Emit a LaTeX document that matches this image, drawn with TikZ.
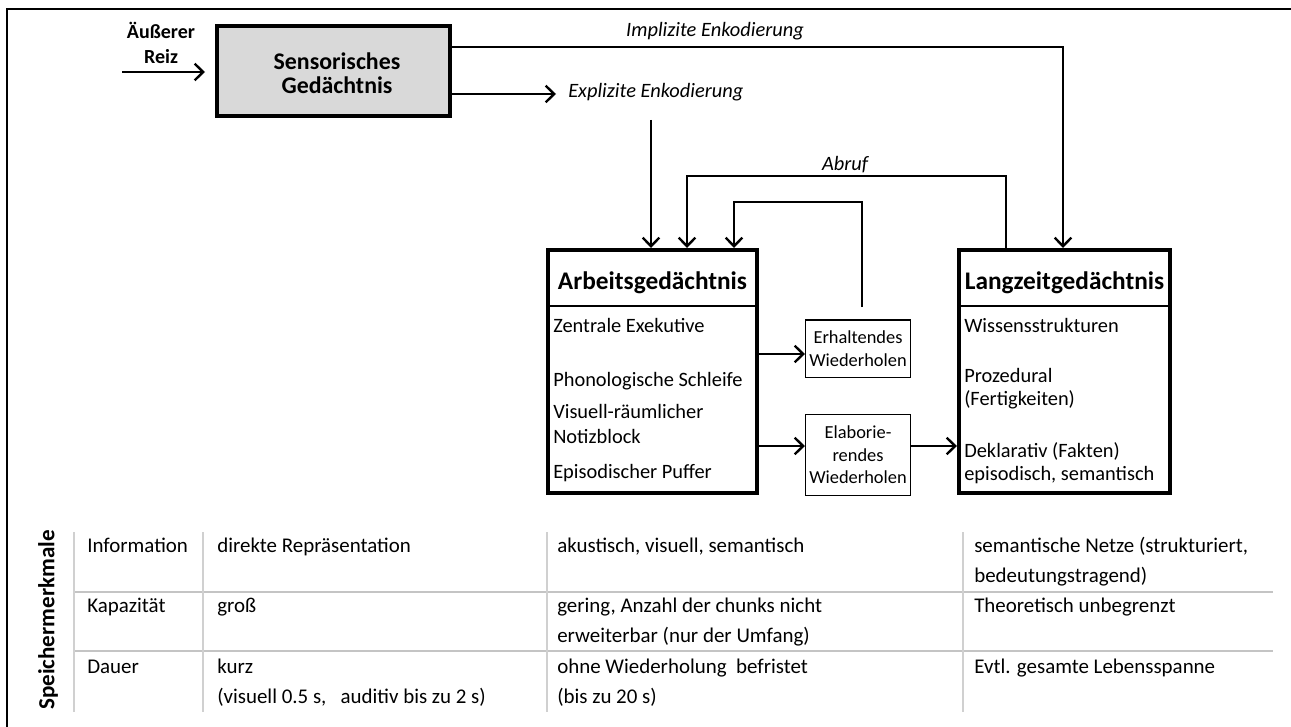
\documentclass[tikz,border=0pt]{standalone}
\usepackage{fontspec}
\setmainfont{Carlito}
\usetikzlibrary{arrows.meta}
\definecolor{boxgray}{HTML}{D9D9D9}
\definecolor{rulegray}{HTML}{C4C4C4}
\newcommand\fbody{\fontsize{15.3}{18}\selectfont}
\newcommand\ftab{\fontsize{15.7}{18}\selectfont}
\newcommand\ftitle{\fontsize{19}{22}\selectfont\bfseries}
\newcommand\fsens{\fontsize{17.9}{21}\selectfont\bfseries}
\newcommand\freiz{\fontsize{15}{18}\selectfont\bfseries}
\newcommand\fsmall{\fontsize{13.8}{17}\selectfont}
\newcommand\fside{\fontsize{17.3}{20}\selectfont\bfseries}
\tikzset{
  store/.style={draw, line width=3pt, inner sep=0pt},
  rehearse/.style={draw, line width=1.1pt, inner sep=0pt, align=center, font=\fsmall},
  arr/.style={line width=2pt, -{Straight Barb[length=6.5pt,width=12.5pt,line width=1.8pt]}},
  divider/.style={line width=1.6pt},
  entry/.style={inner sep=0pt, anchor=base west, font=\fbody},
  heading/.style={inner sep=0pt, anchor=base, font=\ftitle},
  flowlabel/.style={inner sep=0pt, font=\fbody\itshape},
  cell/.style={inner sep=0pt, anchor=base west, font=\ftab},
  hrule/.style={draw=rulegray, line width=1.9pt},
  vrule/.style={draw=rulegray!80, line width=1.4pt}
}
\begin{document}
\begin{tikzpicture}[x=0.75pt, y=-0.75pt]
\useasboundingbox (0,0) rectangle (1291,727);

% outer frame (top and left edges)
\draw[line width=1.6pt] (1291,9) -- (7,9) -- (7,727);

% stores
\node[store, fill=boxgray, minimum width=174.75pt, minimum height=67.5pt] (sg) at (333.5,71) {};
\node[heading, font=\fsens] (sgA) at (337,70) {Sensorisches};
\node[heading, font=\fsens] (sgB) at (337,94) {Gedächtnis};

\node[store, minimum width=156.75pt, minimum height=182.25pt] (ag) at (652.5,371.5) {};
\node[store, minimum width=158.25pt, minimum height=182.25pt] (lz) at (1064.5,371.5) {};
\draw[divider] (ag.west |- 0,306) -- (ag.east |- 0,306);
\draw[divider] (lz.west |- 0,306) -- (lz.east |- 0,306);
\node[heading] (agT) at (652.5,289) {Arbeitsgedächtnis};
\node[heading] (lzT) at (1064.5,289) {Langzeitgedächtnis};

% working memory components
\node[entry] (ag1) at (553,332) {Zentrale Exekutive};
\node[entry] (ag2) at (553,386) {Phonologische Schleife};
\node[entry] (ag3) at (553,418) {Visuell-räumlicher};
\node[entry] (ag4) at (553,443) {Notizblock};
\node[entry] (ag5) at (553,478) {Episodischer Puffer};

% long-term memory components
\node[entry] (lz1) at (964,332) {Wissensstrukturen};
\node[entry] (lz2) at (964,382) {Prozedural};
\node[entry] (lz3) at (964,405) {(Fertigkeiten)};
\node[entry] (lz4) at (964,457) {Deklarativ (Fakten)};
\node[entry] (lz5) at (964,480) {episodisch, semantisch};

% rehearsal boxes
\node[rehearse, minimum width=78.4pt, minimum height=43.1pt] (eh) at (858,348.5) {Erhaltendes\\Wiederholen};
\node[rehearse, minimum width=78.4pt, minimum height=60.4pt] (el) at (858,455) {Elaborie-\\rendes\\Wiederholen};

% external stimulus
\node[heading, font=\freiz] (rzA) at (161,39) {Äußerer};
\node[heading, font=\freiz] (rzB) at (161,64) {Reiz};
\coordinate (reiz) at (122,72);
\draw[arr] (reiz) -- ([xshift=-7.5pt]sg.west |- reiz);

% implicit encoding
\coordinate (impl) at (1063,47);
\draw[arr] (sg.east |- impl) -| (lz.north -| impl);
\node[flowlabel, anchor=base] (implT) at (715,37) {Implizite Enkodierung};

% explicit encoding
\coordinate (explEnd) at (556,94);
\draw[arr] (sg.east |- explEnd) -- (explEnd);
\node[flowlabel, anchor=base west] (explT) at (568,98) {Explizite Enkodierung};
\coordinate (explDown) at (651,120);
\draw[arr] (explDown) -- (ag.north -| explDown);

% retrieval
\coordinate (abrR) at (1006,176);
\coordinate (abrL) at (687,176);
\draw[arr] (lz.north -| abrR) -- (abrR) -- (abrL) -- (ag.north -| abrL);
\node[flowlabel, anchor=base] (abrT) at (845,171) {Abruf};

% maintenance loop
\coordinate (ehS) at (862,307);
\coordinate (ehR) at (862,202);
\coordinate (ehL) at (734,202);
\draw[arr] (ehS) -- (ehR) -- (ehL) -- (ag.north -| ehL);

% rehearsal arrows
\coordinate (rowE) at (0,354);
\coordinate (rowL) at (0,446);
\draw[arr] (ag.east |- rowE) -- (eh.west |- rowE);
\draw[arr] (ag.east |- rowL) -- (el.west |- rowL);
\draw[arr] (el.east |- rowL) -- (lz.west |- rowL);

% table of storage characteristics
\draw[hrule] (74,592) -- (1273,592);
\draw[hrule] (74,651) -- (1273,651);
\foreach \cx in {74,203,547,963} \draw[vrule] (\cx,532) -- (\cx,712);
\node[rotate=90, inner sep=0pt, font=\fside] (side) at (48,620) {Speichermerkmale};

\node[cell] (c11) at (87,552) {Information};
\node[cell] (c12) at (217,552) {direkte Repräsentation};
\node[cell] (c13) at (557,552) {akustisch, visuell, semantisch};
\node[cell] (c14) at (974,552) {semantische Netze (strukturiert,};
\node[cell] (c14b) at (974,582) {bedeutungstragend)};

\node[cell] (c21) at (87,612) {Kapazität};
\node[cell] (c22) at (217,612) {groß};
\node[cell] (c23) at (557,612) {gering, Anzahl der chunks nicht};
\node[cell] (c23b) at (557,642) {erweiterbar (nur der Umfang)};
\node[cell] (c24) at (974,612) {Theoretisch unbegrenzt};

\node[cell] (c31) at (87,673) {Dauer};
\node[cell] (c32) at (217,673) {kurz};
\node[cell] (c32b) at (217,703) {(visuell 0.5 s,\ \ \ auditiv bis zu 2 s)};
\node[cell] (c33) at (557,673) {ohne Wiederholung\ \ befristet};
\node[cell] (c33b) at (557,703) {(bis zu 20 s)};
\node[cell] (c34) at (974,673) {Evtl. gesamte Lebensspanne};
\end{tikzpicture}
\end{document}
